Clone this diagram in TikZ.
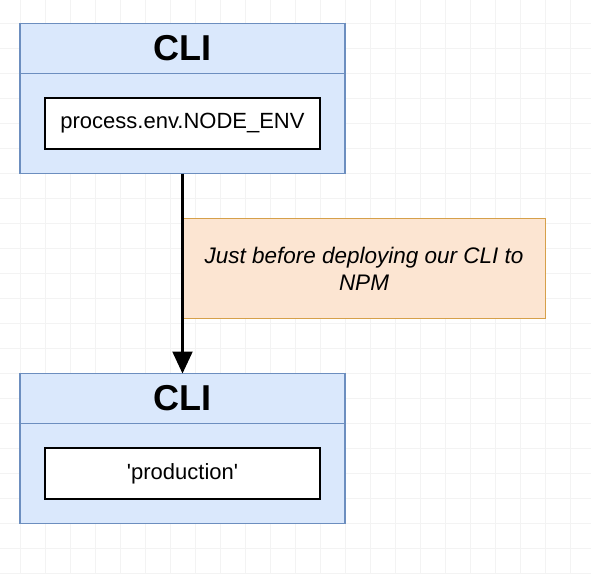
\documentclass[tikz,border=0pt]{standalone}
\usepackage{fontspec}
\setmainfont{Liberation Sans}
\usetikzlibrary{positioning}
\usetikzlibrary{arrows.meta}
\definecolor{cliFill}{HTML}{DAE8FC}
\definecolor{cliLine}{HTML}{6C8EBF}
\definecolor{noteFill}{HTML}{FCE5D2}
\definecolor{noteLine}{HTML}{D6A04A}
\definecolor{gridLine}{HTML}{F3F3F3}
\tikzstyle{header} = [draw=cliLine, fill=cliFill, line width=1.5pt, rectangle, minimum width=325pt, minimum height=50pt, inner sep=0pt, outer sep=0pt, font=\fontsize{36}{40}\selectfont\bfseries]
\tikzstyle{body} = [draw=cliLine, fill=cliFill, line width=1.5pt, rectangle, minimum width=325pt, minimum height=100pt, inner sep=0pt, outer sep=0pt]
\tikzstyle{value} = [draw, fill=white, line width=1.5pt, rectangle, minimum width=275pt, minimum height=51pt, inner sep=0pt, outer sep=0pt, font=\fontsize{22}{26}\selectfont]
\tikzstyle{note} = [draw=noteLine, fill=noteFill, line width=1.5pt, rectangle, minimum width=363pt, minimum height=100pt, inner sep=0pt, outer sep=0pt, align=center, font=\fontsize{22.5}{27}\selectfont\itshape]
\tikzstyle{flow} = [line width=2.2pt, -{Triangle[width=20pt,length=22pt]}]

\begin{document}
\begin{tikzpicture}[x=1pt,y=-1pt,node distance=45pt]
    \useasboundingbox (0,0) rectangle (591,574);
    \fill[white] (0,0) rectangle (591,574);
    % background grid
    \foreach \gx in {20,45,...,570} \draw[gridLine] (\gx,0) -- (\gx,574);
    \foreach \gy in {23,48,...,573} \draw[gridLine] (0,\gy) -- (591,\gy);

    \node [header] (cli) at (182.5,48.5) {CLI};
    \node [body, below=0pt of cli] (clibody) {};
    \node [value] (env) at (clibody) {process.env.NODE\_ENV};

    \node [header, below=200pt of clibody] (prod) {CLI};
    \node [body, below=0pt of prod] (prodbody) {};
    \node [value] (prodval) at (prodbody) {\textquotesingle production\textquotesingle};

    \node [note, below right=45pt and 0pt of clibody.south] (npm) {Just before deploying our CLI to\\NPM};

    \draw [flow] (clibody.south) -- (prod.north);
\end{tikzpicture}
\end{document}
